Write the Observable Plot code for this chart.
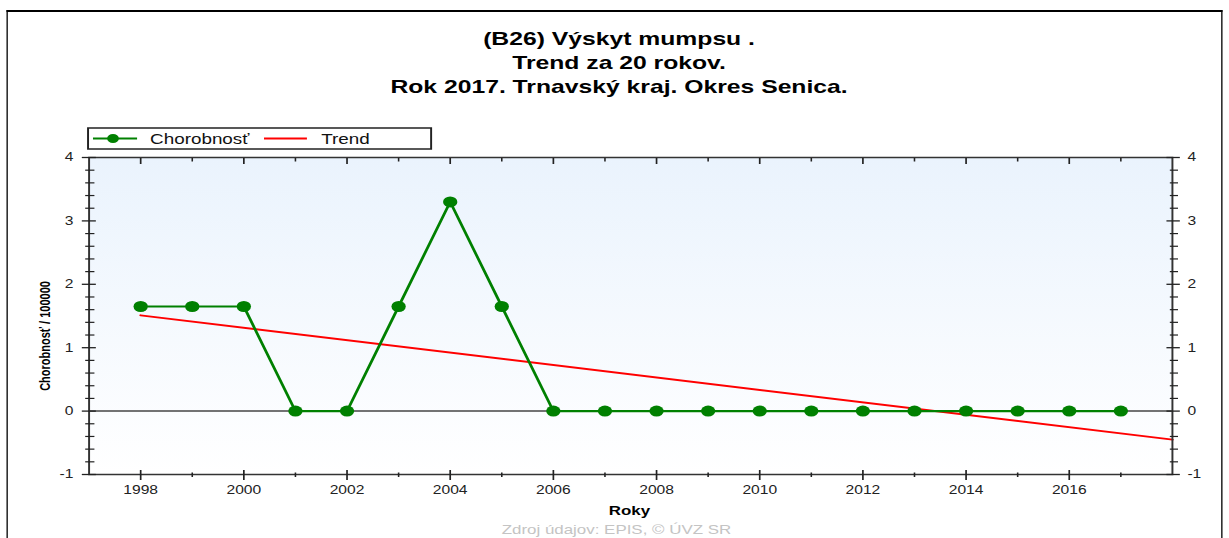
<!DOCTYPE html>
<html>
<head>
<meta charset="utf-8">
<script src="https://cdn.jsdelivr.net/npm/d3@7"></script>
<script src="https://cdn.jsdelivr.net/npm/@observablehq/plot@0.6"></script>
<style>
  html, body { margin: 0; padding: 0; background: #fff; width: 1229px; height: 538px; overflow: hidden; }
  #stage { position: absolute; left: 0; top: 0; width: 945px; height: 538px; transform: scaleX(1.30053); transform-origin: 0 0; overflow: hidden; font-family: "Liberation Sans", Arial, sans-serif; }
  #stage svg { position: absolute; left: 0; top: 0; }
  #border { position: absolute; left: 5.4px; top: 9.5px; width: 934.5px; height: 600px; border-left: 1.5px solid #000; border-right: 1.5px solid #000; border-top: 2px solid #000; box-sizing: border-box; }
</style>
</head>
<body>
<div id="stage"><div id="border"></div></div>
<script>
// ---- data ----
const years = [1998, 1999, 2000, 2001, 2002, 2003, 2004, 2005, 2006, 2007, 2008, 2009, 2010, 2011, 2012, 2013, 2014, 2015, 2016, 2017];
const incidence = [1.65, 1.65, 1.65, 0, 0, 1.65, 3.3, 1.65, 0, 0, 0, 0, 0, 0, 0, 0, 0, 0, 0, 0];
const trendYears = [1998, 2018];
const trendValues = [1.51, -0.45];
const xMajorTicks = [1998, 2000, 2002, 2004, 2006, 2008, 2010, 2012, 2014, 2016];
const xMinorTicks = [1999, 2001, 2003, 2005, 2007, 2009, 2011, 2013, 2015, 2017];
const yMajorTicks = [-1, 0, 1, 2, 3, 4];
const yMinorTicks = [-0.8, -0.6, -0.4, -0.2, 0.2, 0.4, 0.6, 0.8, 1.2, 1.4, 1.6, 1.8, 2.2, 2.4, 2.6, 2.8, 3.2, 3.4, 3.6, 3.8];
const titleLines = ["(B26) Výskyt mumpsu .", "Trend za 20 rokov.", "Rok 2017. Trnavský kraj. Okres Senica."];
const seriesNames = ["Chorobnosť", "Trend"];
const yLabel = "Chorobnosť / 100000";
const xLabel = "Roky";
const sourceText = "Zdroj údajov: EPIS, © ÚVZ SR";

const data = years.map((y, i) => ({year: y, value: incidence[i]}));
const trend = trendYears.map((y, i) => ({year: y, value: trendValues[i]}));

const W = 945, H = 538;
const ink = "#222";
const fmtNone = () => "";
const fmtInt = d => String(d);

const chart = Plot.plot({
  width: W, height: H,
  marginLeft: 68, marginRight: 44, marginTop: 157, marginBottom: 64,
  x: {domain: [1997, 2018]},
  y: {domain: [-1, 4]},
  style: {fontFamily: "'Liberation Sans', Arial, sans-serif", fontSize: "12px", color: ink, background: "transparent", overflow: "visible"},
  marks: [
    Plot.frame({fill: "url(#bgGrad)", stroke: "none"}),
    Plot.ruleY([0], {stroke: "#444", strokeWidth: 1.5}),
    Plot.line(trend, {x: "year", y: "value", stroke: "#ff0000", strokeWidth: 2}),
    Plot.line(data, {x: "year", y: "value", stroke: "#008000", strokeWidth: 2.2}),
    Plot.dot(data, {x: "year", y: "value", r: 5.5, fill: "#008000", stroke: "none"}),
    Plot.frame({stroke: "#333", strokeWidth: 1.5}),
    // left axis
    Plot.axisY(yMajorTicks, {anchor: "left", tickSize: 10.8, dx: 5.7, strokeWidth: 1.3, tickFormat: fmtNone, label: null}),
    Plot.axisY(yMinorTicks, {anchor: "left", tickSize: 7.1, dx: 4.6, strokeWidth: 1.2, tickFormat: fmtNone, label: null}),
    Plot.axisY(yMajorTicks, {anchor: "left", tickSize: 0, tickPadding: 12, label: null, tickFormat: fmtInt, fontSize: 12}),
    // right axis
    Plot.axisY(yMajorTicks, {anchor: "right", tickSize: 10.3, dx: -5.1, strokeWidth: 1.3, tickFormat: fmtNone, label: null}),
    Plot.axisY(yMinorTicks, {anchor: "right", tickSize: 6.3, dx: -2.5, strokeWidth: 1.2, tickFormat: fmtNone, label: null}),
    Plot.axisY(yMajorTicks, {anchor: "right", tickSize: 0, tickPadding: 11.5, label: null, tickFormat: fmtInt, fontSize: 12}),
    // bottom axis
    Plot.axisX(xMajorTicks, {anchor: "bottom", tickSize: 10, dy: -4, strokeWidth: 1.3, tickFormat: fmtNone, label: null}),
    Plot.axisX(xMinorTicks, {anchor: "bottom", tickSize: 4.5, dy: -1.5, strokeWidth: 1.2, tickFormat: fmtNone, label: null}),
    Plot.axisX(xMajorTicks, {anchor: "bottom", tickSize: 0, tickPadding: 10.5, label: null, tickFormat: fmtInt, fontSize: 12}),
    // top axis (inward ticks)
    Plot.axisX(xMajorTicks, {anchor: "top", tickSize: 6, dy: 6, strokeWidth: 1.3, tickFormat: fmtNone, label: null}),
    Plot.axisX(xMinorTicks, {anchor: "top", tickSize: 3.5, dy: 3.5, strokeWidth: 1.2, tickFormat: fmtNone, label: null})
  ]
});

const svg = d3.select(chart);
const defs = svg.insert("defs", ":first-child");
const grad = defs.append("linearGradient").attr("id", "bgGrad").attr("x1", 0).attr("y1", 0).attr("x2", 0).attr("y2", 1);
grad.append("stop").attr("offset", "0%").attr("stop-color", "#eaf3fd");
grad.append("stop").attr("offset", "100%").attr("stop-color", "#ffffff");

// title, legend, axis labels, source
const font = "'Liberation Sans', Arial, sans-serif";
const ann = svg.append("g").attr("font-family", font).attr("fill", "#000");
const titleBaselines = [45, 69.5, 93.5];
titleLines.forEach((t, i) => {
  ann.append("text").attr("x", 476).attr("y", titleBaselines[i]).attr("text-anchor", "middle")
    .attr("font-size", 19).attr("font-weight", "bold").text(t);
});

// legend
const lg = ann.append("g");
lg.append("rect").attr("x", 67.7).attr("y", 128).attr("width", 263.8).attr("height", 21)
  .attr("fill", "#fff").attr("stroke", "#222").attr("stroke-width", 1.5);
lg.append("line").attr("x1", 71.5).attr("x2", 105.4).attr("y1", 138.5).attr("y2", 138.5).attr("stroke", "#008000").attr("stroke-width", 2.2);
lg.append("circle").attr("cx", 86.9).attr("cy", 138.5).attr("r", 4.5).attr("fill", "#008000");
lg.append("text").attr("x", 115.4).attr("y", 143.8).attr("text-anchor", "start").attr("font-size", 14.5).attr("fill", "#111").text(seriesNames[0]);
lg.append("line").attr("x1", 203).attr("x2", 236).attr("y1", 138.5).attr("y2", 138.5).attr("stroke", "#ff0000").attr("stroke-width", 2);
lg.append("text").attr("x", 247).attr("y", 143.8).attr("text-anchor", "start").attr("font-size", 14.5).attr("fill", "#111").text(seriesNames[1]);

// axis titles
ann.append("text").attr("transform", "translate(38.5,336) rotate(-90)").attr("text-anchor", "middle")
  .attr("font-size", 11).attr("font-weight", "bold").text(yLabel);
ann.append("text").attr("x", 484).attr("y", 515).attr("text-anchor", "middle")
  .attr("font-size", 13).attr("font-weight", "bold").text(xLabel);
ann.append("text").attr("x", 474).attr("y", 534).attr("text-anchor", "middle")
  .attr("font-size", 13).attr("fill", "#c4c4c4").text(sourceText);

document.getElementById("stage").appendChild(chart);
</script>
</body>
</html>
